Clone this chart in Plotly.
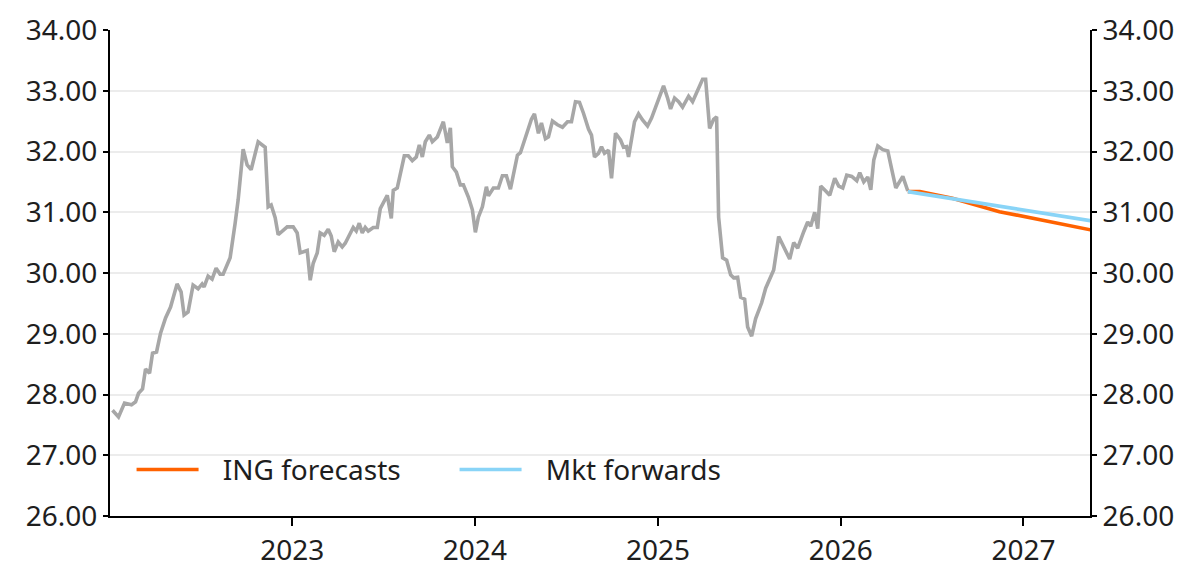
import pandas as pd
import plotly.graph_objects as go

# Spot history (weekly-ish)
spot_dates = [
    "2022-01-07", "2022-01-19", "2022-01-31", "2022-02-14", "2022-02-22", "2022-02-28",
    "2022-03-08", "2022-03-14", "2022-03-22", "2022-03-28", "2022-04-05", "2022-04-13",
    "2022-04-23", "2022-05-03", "2022-05-16", "2022-05-24", "2022-05-30", "2022-06-07",
    "2022-06-17", "2022-06-27", "2022-07-05", "2022-07-09", "2022-07-17", "2022-07-25",
    "2022-08-02", "2022-08-10", "2022-08-16", "2022-08-30", "2022-09-09", "2022-09-15",
    "2022-09-25", "2022-10-03", "2022-10-11", "2022-10-25", "2022-11-08", "2022-11-14",
    "2022-11-20", "2022-11-28", "2022-12-04", "2022-12-22", "2023-01-03", "2023-01-11",
    "2023-01-17", "2023-01-31", "2023-02-06", "2023-02-12", "2023-02-20", "2023-02-26",
    "2023-03-06", "2023-03-14", "2023-03-20", "2023-03-26", "2023-04-03", "2023-04-11",
    "2023-04-17", "2023-04-27", "2023-05-03", "2023-05-09", "2023-05-15", "2023-05-21",
    "2023-05-27", "2023-06-02", "2023-06-12", "2023-06-20", "2023-06-26", "2023-07-10",
    "2023-07-18", "2023-07-22", "2023-07-30", "2023-08-13", "2023-08-21", "2023-08-29",
    "2023-09-06", "2023-09-12", "2023-09-18", "2023-09-24", "2023-10-02", "2023-10-08",
    "2023-10-18", "2023-10-30", "2023-11-07", "2023-11-13", "2023-11-17", "2023-11-25",
    "2023-12-03", "2023-12-09", "2023-12-19", "2023-12-27", "2024-01-02", "2024-01-08",
    "2024-01-16", "2024-01-24", "2024-01-28", "2024-02-07", "2024-02-17", "2024-02-25",
    "2024-03-04", "2024-03-12", "2024-03-26", "2024-04-01", "2024-04-11", "2024-04-23",
    "2024-04-29", "2024-05-07", "2024-05-13", "2024-05-21", "2024-05-27", "2024-06-04",
    "2024-06-14", "2024-06-24", "2024-07-04", "2024-07-12", "2024-07-20", "2024-07-28",
    "2024-08-05", "2024-08-15", "2024-08-21", "2024-08-27", "2024-09-04", "2024-09-10",
    "2024-09-16", "2024-09-24", "2024-09-30", "2024-10-08", "2024-10-18", "2024-10-24",
    "2024-10-30", "2024-11-03", "2024-11-15", "2024-11-23", "2024-12-01", "2024-12-11",
    "2024-12-19", "2024-12-31", "2025-01-12", "2025-01-20", "2025-01-26", "2025-02-03",
    "2025-02-11", "2025-02-19", "2025-03-03", "2025-03-11", "2025-03-21", "2025-03-31",
    "2025-04-06", "2025-04-14", "2025-04-22", "2025-04-28", "2025-05-02", "2025-05-10",
    "2025-05-18", "2025-05-26", "2025-06-01", "2025-06-09", "2025-06-15", "2025-06-23",
    "2025-06-29", "2025-07-07", "2025-07-15", "2025-07-27", "2025-08-04", "2025-08-14",
    "2025-08-20", "2025-08-30", "2025-09-09", "2025-09-21", "2025-09-29", "2025-10-07",
    "2025-10-19", "2025-10-27", "2025-11-02", "2025-11-10", "2025-11-16", "2025-11-22",
    "2025-12-02", "2025-12-10", "2025-12-20", "2025-12-28", "2026-01-05", "2026-01-13",
    "2026-01-23", "2026-02-02", "2026-02-08", "2026-02-16", "2026-02-24", "2026-03-02",
    "2026-03-08", "2026-03-16", "2026-03-26", "2026-04-05", "2026-04-13", "2026-04-21",
    "2026-05-05", "2026-05-15",
]
spot_values = [
    27.74, 27.63, 27.86, 27.83, 27.88, 28.02,
    28.09, 28.42, 28.35, 28.68, 28.70, 29.01,
    29.26, 29.44, 29.82, 29.69, 29.31, 29.36,
    29.80, 29.74, 29.82, 29.77, 29.95, 29.90,
    30.08, 29.98, 29.98, 30.25, 30.82, 31.20,
    32.04, 31.78, 31.70, 32.16, 32.07, 31.09,
    31.12, 30.91, 30.63, 30.76, 30.76, 30.66,
    30.33, 30.37, 29.88, 30.16, 30.33, 30.66,
    30.62, 30.72, 30.61, 30.35, 30.51, 30.43,
    30.49, 30.67, 30.75, 30.69, 30.82, 30.66,
    30.75, 30.69, 30.75, 30.75, 31.06, 31.28,
    30.90, 31.36, 31.40, 31.93, 31.93, 31.85,
    31.91, 32.11, 31.91, 32.16, 32.27, 32.16,
    32.24, 32.49, 32.14, 32.39, 31.75, 31.66,
    31.45, 31.45, 31.25, 31.04, 30.67, 30.92,
    31.09, 31.42, 31.27, 31.40, 31.40, 31.60,
    31.60, 31.38, 31.94, 31.98, 32.24, 32.53,
    32.62, 32.30, 32.47, 32.21, 32.24, 32.50,
    32.44, 32.40, 32.49, 32.49, 32.82, 32.81,
    32.63, 32.37, 32.27, 31.91, 31.97, 32.08,
    31.97, 32.02, 31.56, 32.30, 32.19, 32.07,
    32.08, 31.91, 32.49, 32.62, 32.52, 32.42,
    32.55, 32.82, 33.08, 32.88, 32.70, 32.88,
    32.82, 32.73, 32.91, 32.82, 33.00, 33.19,
    33.19, 32.38, 32.53, 32.57, 30.92, 30.25,
    30.21, 29.97, 29.92, 29.93, 29.60, 29.57,
    29.11, 28.96, 29.25, 29.51, 29.75, 29.94,
    30.05, 30.60, 30.43, 30.23, 30.50, 30.41,
    30.68, 30.84, 30.77, 31.00, 30.73, 31.43,
    31.35, 31.28, 31.56, 31.43, 31.40, 31.61,
    31.59, 31.52, 31.65, 31.50, 31.58, 31.37,
    31.86, 32.09, 32.03, 32.01, 31.70, 31.40,
    31.59, 31.35,
]

# ING forecasts
ing_dates = ["2026-05-15", "2026-06-08", "2026-08-12", "2026-11-14", "2027-05-15"]
ing_values = [31.34, 31.34, 31.23, 31.01, 30.71]

# Market forwards
fwd_dates = ["2026-05-15", "2026-11-15", "2027-05-15"]
fwd_values = [31.34, 31.10, 30.86]

font_family = "Noto Sans"
text_color = "#1e1e1e"
tick_font = dict(family=font_family, size=28, color=text_color)
pad = "\u00a0\u00a0\u2009"  # a bit of room between legend line and label

fig = go.Figure()

fig.add_trace(go.Scatter(
    x=pd.to_datetime(spot_dates), y=spot_values, mode="lines",
    line=dict(color="#a7a7a7", width=3.6), showlegend=False,
))
fig.add_trace(go.Scatter(
    x=pd.to_datetime(ing_dates), y=ing_values, mode="lines", name=pad + "ING forecasts",
    line=dict(color="#ff6200", width=3.6),
))
fig.add_trace(go.Scatter(
    x=pd.to_datetime(fwd_dates), y=fwd_values, mode="lines", name=pad + "Mkt forwards",
    line=dict(color="#89d4f7", width=3.6),
))
# invisible trace on the right axis so it renders
fig.add_trace(go.Scatter(
    x=pd.to_datetime(fwd_dates), y=fwd_values, yaxis="y2", mode="lines",
    line=dict(width=0), opacity=0, showlegend=False, hoverinfo="skip",
))

yaxis_common = dict(
    range=[26, 34], dtick=1, tickformat=".2f",
    showline=True, linecolor="black", linewidth=2,
    ticks="outside", ticklen=5, tickwidth=2, tickcolor="black",
    tickfont=tick_font, zeroline=False, automargin=False,
)

# figure is offset 8px by the page body margin, so size it 8px smaller
fig.update_layout(
    width=1192, height=574,
    margin=dict(l=102, r=110, t=22, b=66),
    paper_bgcolor="white", plot_bgcolor="white",
    font=dict(family=font_family, size=28, color=text_color),
    xaxis=dict(
        type="date", range=["2022-01-02", "2027-05-14"],
        dtick="M12", tick0="2023-01-01", tickformat="%Y",
        showline=True, linecolor="black", linewidth=2,
        ticks="outside", ticklen=8, tickwidth=2, tickcolor="black",
        tickfont=tick_font, showgrid=False, zeroline=False, automargin=False,
    ),
    yaxis=dict(**yaxis_common, showgrid=True, gridcolor="#ececec", gridwidth=2),
    yaxis2=dict(**yaxis_common, overlaying="y", side="right", showgrid=False),
    legend=dict(
        orientation="h", x=0.022, y=0.095, xanchor="left", yanchor="middle",
        bgcolor="rgba(0,0,0,0)", font=dict(family=font_family, size=28, color=text_color),
        itemwidth=62, entrywidth=246, tracegroupgap=0,
    ),
    showlegend=True,
)

fig.write_html("out.html")
